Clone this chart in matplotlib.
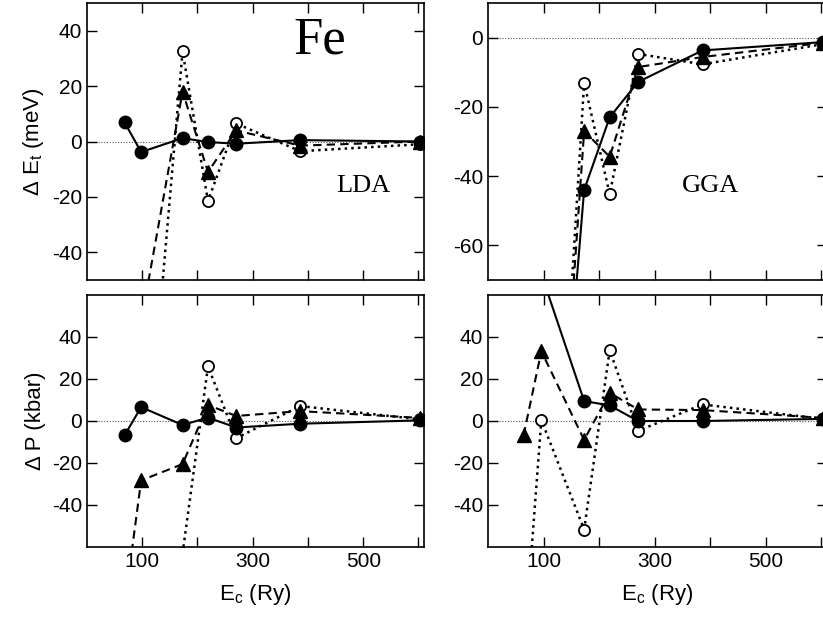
import matplotlib
matplotlib.use("Agg")
import matplotlib.pyplot as plt

plt.rcParams['font.family'] = ['Liberation Sans', 'DejaVu Sans']
plt.rcParams['axes.unicode_minus'] = False
plt.rcParams['mathtext.fontset'] = 'custom'
plt.rcParams['mathtext.rm'] = 'Liberation Sans'

# LDA total energy (meV)
lda_e_x_fill = [68, 98, 173, 219, 270, 386, 602]
lda_e_fill = [6.9, -3.8, 1.2, -0.2, -0.8, 0.5, 0.0]
lda_e_x_tri = [98, 173, 219, 270, 386, 602]
lda_e_tri = [-65, 18, -11, 4, -1.5, 0.0]
lda_e_x_open = [98, 173, 219, 270, 386, 602]
lda_e_open = [-140, 32.5, -21.5, 6.5, -3.5, -1.0]

# GGA total energy (meV)
gga_e_x_fill = [98, 173, 219, 270, 386, 602]
gga_e_fill = [-190, -44, -23, -12.8, -3.7, -1.3]
gga_e_x_tri = [98, 173, 219, 270, 386, 602]
gga_e_tri = [-200, -27, -34.4, -8.5, -5.6, -1.5]
gga_e_x_open = [98, 173, 219, 270, 386, 602]
gga_e_open = [-210, -13, -45.2, -4.7, -7.7, -1.9]

# LDA pressure (kbar)
lda_p_x_fill = [68, 98, 173, 219, 270, 386, 602]
lda_p_fill = [-6.8, 6.6, -1.9, 1.6, -3.1, -1.3, 0.3]
lda_p_x_tri = [68, 98, 173, 219, 270, 386, 602]
lda_p_tri = [-88, -28.3, -20.5, 7.6, 2.4, 4.7, 1.5]
lda_p_x_open = [173, 219, 270, 386, 602]
lda_p_open = [-63, 26, -8.2, 7.1, 0.8]

# GGA pressure (kbar)
gga_p_x_fill = [68, 96, 173, 219, 270, 386, 602]
gga_p_fill = [110, 70, 9.5, 7.4, 0.0, 0.0, 1.0]
gga_p_x_tri = [64, 96, 173, 219, 270, 386, 602]
gga_p_tri = [-6.8, 33.2, -9, 13.4, 5.5, 5.2, 1.5]
gga_p_x_open = [68, 96, 173, 219, 270, 386, 602]
gga_p_open = [-98, 0.5, -51.7, 33.7, -4.7, 7.9, 1.0]

W, H = 823, 632
fig = plt.figure(figsize=(W/100, H/100), dpi=100)

def ax_at(x0, x1, y0, y1):
    return fig.add_axes([x0/W, 1-y1/H, (x1-x0)/W, (y1-y0)/H])

ax_tl = ax_at(87, 424, 3, 280)
ax_tr = ax_at(488, 827, 3, 280)
ax_bl = ax_at(87, 424, 295, 547)
ax_br = ax_at(488, 827, 295, 547)

def draw(ax, xf, yf, xt, yt, xo, yo, ylim, yticks):
    ax.axhline(0, color='#555555', lw=0.8, ls=(0, (1, 1.5)), zorder=1)
    ax.plot(xf, yf, '-', color='black', lw=1.5, marker='o', ms=9, zorder=4)
    ax.plot(xt, yt, '--', color='black', lw=1.5, marker='^', ms=10,
            dashes=(4, 2.5), zorder=3)
    ax.plot(xo, yo, ':', color='black', lw=1.8, marker='o', ms=8,
            mfc='white', mew=1.3, zorder=2)
    ax.set_xlim(0, 610)
    ax.set_ylim(*ylim)
    ax.set_xticks([100, 200, 300, 400, 500, 600])
    ax.set_xticklabels(['100', '', '300', '', '500', ''])
    ax.set_yticks(yticks)
    ax.tick_params(direction='in', top=True, right=True, length=7,
                   labelsize=15, width=1)
    for s in ax.spines.values():
        s.set_linewidth(1.2)

draw(ax_tl, lda_e_x_fill, lda_e_fill, lda_e_x_tri, lda_e_tri,
     lda_e_x_open, lda_e_open, (-50, 50), [-40, -20, 0, 20, 40])
draw(ax_tr, gga_e_x_fill, gga_e_fill, gga_e_x_tri, gga_e_tri,
     gga_e_x_open, gga_e_open, (-70, 10), [-60, -40, -20, 0])
draw(ax_bl, lda_p_x_fill, lda_p_fill, lda_p_x_tri, lda_p_tri,
     lda_p_x_open, lda_p_open, (-60, 60), [-40, -20, 0, 20, 40])
draw(ax_br, gga_p_x_fill, gga_p_fill, gga_p_x_tri, gga_p_tri,
     gga_p_x_open, gga_p_open, (-60, 60), [-40, -20, 0, 20, 40])

for ax in (ax_tl, ax_tr):
    ax.set_xticklabels([])

for ax in (ax_bl, ax_br):
    ax.set_xlabel('E$_\\mathregular{c}$ (Ry)', fontsize=16, labelpad=8)

ax_tl.set_ylabel('Δ E$_\\mathregular{t}$ (meV)', fontsize=16, labelpad=4)
ax_bl.set_ylabel('Δ P (kbar)', fontsize=16, labelpad=4)

ax_tl.text(0.69, 0.865, 'Fe', transform=ax_tl.transAxes, fontsize=38,
           family='Liberation Serif', ha='center', va='center')
ax_tl.text(0.82, 0.34, 'LDA', transform=ax_tl.transAxes, fontsize=19,
           family='Liberation Serif', ha='center', va='center')
ax_tr.text(0.655, 0.34, 'GGA', transform=ax_tr.transAxes, fontsize=19,
           family='Liberation Serif', ha='center', va='center')

fig.savefig('out.png', dpi=100)
